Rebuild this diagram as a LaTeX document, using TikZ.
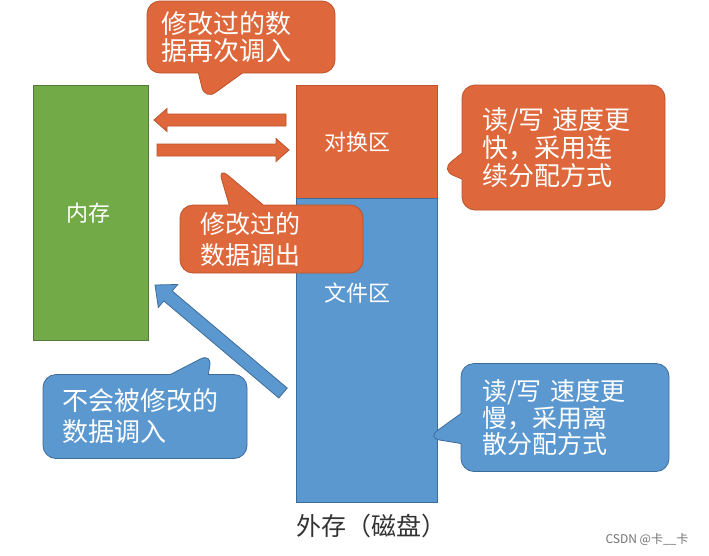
\documentclass[tikz,border=0pt]{standalone}
\usepackage{fontspec}
\setmainfont{Noto Sans CJK SC}
\usetikzlibrary{calc,shapes.callouts}
\definecolor{orf}{RGB}{222,104,60}
\definecolor{ord}{RGB}{190,82,42}
\definecolor{blf}{RGB}{91,152,208}
\definecolor{bld}{RGB}{62,108,152}
\definecolor{grf}{RGB}{114,170,72}
\definecolor{grd}{RGB}{84,120,60}
\newcommand\blkarrow[6]{%
  \coordinate (ba-hb) at ($(#2)!#5!(#1)$);
  \path[#6] ($(#1)!#3!90:(#2)$) -- ($(ba-hb)!#3!90:(#2)$) -- ($(ba-hb)!#4!90:(#2)$) -- (#2)
    -- ($(ba-hb)!#4!-90:(#2)$) -- ($(ba-hb)!#3!-90:(#2)$) -- ($(#1)!#3!-90:(#2)$) -- cycle;
}
\tikzset{
  memblock/.style={draw=#1, line width=0.8pt, anchor=north west, inner sep=0pt},
  boxlabel/.style={text=white, font=\fontsize{22}{24}\selectfont},
  callbase/.style={rectangle callout, rounded corners=13pt, line width=0.8pt,
    text=white, inner sep=0pt, align=left},
  ocall/.style={callbase, fill=orf, draw=ord},
  bcall/.style={callbase, fill=blf, draw=bld},
  oarrow/.style={fill=orf, draw=ord, line width=0.8pt, line join=miter},
  barrow/.style={fill=blf, draw=bld, line width=0.8pt, line join=miter},
}
\begin{document}
\begin{tikzpicture}[x=1pt, y=-1pt]
\useasboundingbox[fill=white] (0,0) rectangle (709,555);

% blocks
\node[memblock=grd, fill=grf, minimum width=115pt, minimum height=255pt] (mem) at (33,85) {};
\node[memblock=ord, fill=orf, minimum width=141pt, minimum height=113pt] (swap) at (296,85) {};
\node[memblock=bld, fill=blf, minimum width=141pt, minimum height=304pt] (file) at (296,198) {};

\node[boxlabel] (memt) at (88,213) {内存};
\node[boxlabel] (swapt) at (357,142) {对换区};
\node[boxlabel] (filet) at (357,293) {文件区};

\node[font=\fontsize{25}{27}\selectfont, text=black!80] (disk) at (371,526) {外存（磁盘）};
\node[font=\fontsize{12}{14}\selectfont, text=black!55] (wm) at (647,539) {CSDN @卡\_\_卡};

% arrows
\coordinate (a1s) at (286,120);
\coordinate (a1e) at (154,120);
\coordinate (a2s) at (157,150);
\coordinate (a2e) at (289,150);
\coordinate (a3s) at (283,393);
\coordinate (a3e) at (155,285);
\blkarrow{a1s}{a1e}{6pt}{11.5pt}{13pt}{oarrow}
\blkarrow{a2s}{a2e}{6pt}{11.5pt}{13pt}{oarrow}
\blkarrow{a3s}{a3e}{6.5pt}{15pt}{17pt}{barrow}

% callouts
\node[ocall, minimum width=188pt, minimum height=72pt, text width=160pt,
  callout absolute pointer={(205,100)}, callout pointer width=44pt,
  font=\fontsize{26}{27.5}\selectfont] (c1) at (241,37) {修改过的数\\据再次调入};

\node[ocall, minimum width=183pt, minimum height=68pt, text width=143pt,
  callout absolute pointer={(218,167)}, callout pointer width=34pt,
  font=\fontsize{25}{31}\selectfont] (c2) at (271.5,239) {修改过的\\数据调出};

\node[ocall, minimum width=203pt, minimum height=125pt, text width=163pt,
  callout absolute pointer={(441,170)}, callout pointer width=26pt,
  font=\fontsize{26}{28}\selectfont] (c3) at (563.5,147.5) {读/写 速度更\\快，采用连\\续分配方式};

\node[bcall, minimum width=204pt, minimum height=84pt, text width=166pt,
  callout absolute pointer={(212,353)}, callout pointer width=38pt,
  font=\fontsize{26}{31}\selectfont] (c4) at (145,416.5) {不会被修改的\\数据调入};

\node[bcall, minimum width=208pt, minimum height=108pt, text width=166pt,
  callout absolute pointer={(427,438)}, callout pointer width=30pt,
  font=\fontsize{25}{25.5}\selectfont] (c5) at (565,417.5) {读/写 速度更\\慢，采用离\\散分配方式};
\end{tikzpicture}
\end{document}
